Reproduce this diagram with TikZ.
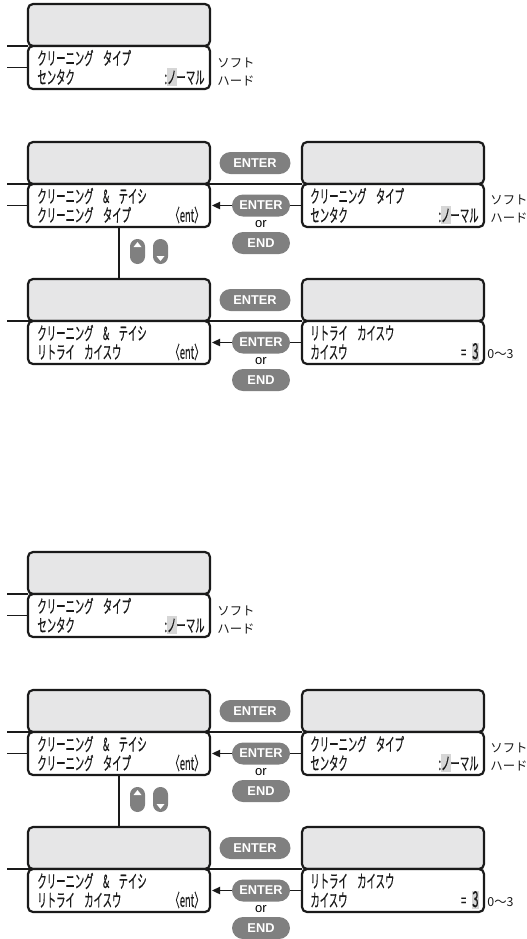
\documentclass[tikz,border=0pt]{standalone}
\usepackage{fontspec}
\setmainfont{Liberation Sans}
\newfontfamily\lcdfont[FakeStretch=0.52,FakeBold=0.3]{Noto Sans CJK JP}
\newfontfamily\notefont{Noto Sans CJK JP}
\usetikzlibrary{positioning,arrows.meta}
\newcommand\lcdmark[1]{{\setlength\fboxsep{0pt}\colorbox{hlgray}{\rule[-.12em]{0pt}{1.02em}#1}}}

\begin{document}
\begin{tikzpicture}[x=0.5pt,y=-0.5pt,
  lcdtop/.style={draw=ink,line width=1.1pt,fill=lcdgray,rounded corners=2.5pt,minimum width=91pt,minimum height=21pt,inner sep=0pt,outer sep=0pt},
  lcdbot/.style={lcdtop,fill=white,minimum height=21.5pt},
  lcdtxt/.style={inner sep=0pt,text=ink,font=\lcdfont\fontsize{9}{9}\selectfont},
  note/.style={inner sep=0pt,text=ink,font=\notefont\fontsize{6.2}{6.2}\selectfont},
  wire/.style={draw=ink,line width=0.8pt},
  key/.style={fill=keygray,text=white,rounded corners=5.5pt,minimum height=11pt,inner sep=0pt,font=\bfseries\fontsize{6.4}{6.4}\selectfont},
  btn/.style={fill=keygray,rounded corners=3.7pt,minimum width=7.5pt,minimum height=12.5pt,inner sep=0pt}]
\definecolor{ink}{HTML}{1A1A1A}\definecolor{lcdgray}{HTML}{E6E6E7}
\definecolor{keygray}{HTML}{808080}\definecolor{hlgray}{HTML}{D6D6D6}
\useasboundingbox (0,0) rectangle (526,939);
\foreach \dy/\cp in {0/u,548/v}{
\begin{scope}[shift={(0,\dy)}]
% single display
\node[lcdtop] (\cp1top) at (119,25) {};
\node[lcdbot,below=0pt of \cp1top] (\cp1bot) {};
\coordinate (\cp1in) at (7,46);
\coordinate (\cp1inb) at (7,67.5);
\draw[wire] (\cp1in) -- (\cp1top.south west);
\draw[wire] (\cp1inb) -- (\cp1bot.west);
\node[lcdtxt,anchor=west] (\cp1a) at (37,58) {クリーニング　タイプ};
\node[lcdtxt,anchor=west] (\cp1b) at (37,77) {センタク};
\node[lcdtxt,anchor=east] (\cp1c) at (205,77) {:\lcdmark{ノ}ーマル};
\node[note,anchor=west] (\cp1d) at (217,63) {ソフト};
\node[note,anchor=west] (\cp1e) at (217,81) {ハード};
% menu row: cleaning type
\node[lcdtop] (\cp2atop) at (119,163) {};
\node[lcdbot,below=0pt of \cp2atop] (\cp2abot) {};
\node[lcdtop] (\cp2btop) at (393,163) {};
\node[lcdbot,below=0pt of \cp2btop] (\cp2bbot) {};
\coordinate (\cp2in) at (7,184);
\coordinate (\cp2inb) at (7,205.5);
\draw[wire] (\cp2in) -- (\cp2btop.south west);
\draw[wire] (\cp2inb) -- (\cp2abot.west);
\draw[wire,-{Triangle[length=4pt,width=3.6pt]},shorten >=1pt] (\cp2bbot.west) -- (\cp2abot.east);
\node[key,minimum width=35.5pt] (\cp2go) at (255,163) {ENTER};
\node[key,minimum width=29pt] (\cp2ok) at (261,205.5) {ENTER};
\node[inner sep=0pt,font=\fontsize{6.5}{6.5}\selectfont] (\cp2or) at (261,224) {or};
\node[key,minimum width=29pt] (\cp2end) at (261,243) {END};
\node[lcdtxt,anchor=west] (\cp2a) at (37,196) {クリーニング　\&　テイシ};
\node[lcdtxt,anchor=west] (\cp2b) at (37,215) {クリーニング　タイプ};
\node[lcdtxt,anchor=east] (\cp2c) at (204,215) {〈ent〉};
\node[lcdtxt,anchor=west] (\cp2d) at (310,196) {クリーニング　タイプ};
\node[lcdtxt,anchor=west] (\cp2e) at (310,215) {センタク};
\node[lcdtxt,anchor=east] (\cp2f) at (479,215) {:\lcdmark{ノ}ーマル};
\node[note,anchor=west] (\cp2g) at (490,200) {ソフト};
\node[note,anchor=west] (\cp2h) at (490,218) {ハード};
% menu row: retry count
\node[lcdtop] (\cp3atop) at (119,300) {};
\node[lcdbot,below=0pt of \cp3atop] (\cp3abot) {};
\node[lcdtop] (\cp3btop) at (393,300) {};
\node[lcdbot,below=0pt of \cp3btop] (\cp3bbot) {};
\coordinate (\cp3in) at (7,321);
\draw[wire] (\cp3in) -- (\cp3btop.south west);
\draw[wire,-{Triangle[length=4pt,width=3.6pt]},shorten >=1pt] (\cp3bbot.west) -- (\cp3abot.east);
\node[key,minimum width=35.5pt] (\cp3go) at (255,300) {ENTER};
\node[key,minimum width=29pt] (\cp3ok) at (261,342.5) {ENTER};
\node[inner sep=0pt,font=\fontsize{6.5}{6.5}\selectfont] (\cp3or) at (261,361) {or};
\node[key,minimum width=29pt] (\cp3end) at (261,380) {END};
\node[lcdtxt,anchor=west] (\cp3a) at (37,333) {クリーニング　\&　テイシ};
\node[lcdtxt,anchor=west] (\cp3b) at (37,352) {リトライ　カイスウ};
\node[lcdtxt,anchor=east] (\cp3c) at (204,352) {〈ent〉};
\node[lcdtxt,anchor=west] (\cp3d) at (310,333) {リトライ　カイスウ};
\node[lcdtxt,anchor=west] (\cp3e) at (310,352) {カイスウ};
\node[lcdtxt,anchor=east] (\cp3f) at (479,352) {=\hspace{3pt}\lcdmark{\fontsize{11}{11}\selectfont 3}};
\node[note,anchor=west] (\cp3g) at (487,354) {0〜3};
% up/down keys
\draw[wire] (\cp2abot.south) -- (\cp3atop.north);
\node[btn] (\cp2up) at (137.5,251.5) {};
\node[btn] (\cp2dn) at (160.5,251.5) {};
\fill[white] ([shift={(-4,-4.5)}]\cp2up.center) -- ([shift={(4,-4.5)}]\cp2up.center) -- ([shift={(0,-9.5)}]\cp2up.center) -- cycle;
\fill[white] ([shift={(-4,4.5)}]\cp2dn.center) -- ([shift={(4,4.5)}]\cp2dn.center) -- ([shift={(0,9.5)}]\cp2dn.center) -- cycle;
\end{scope}
}
\end{tikzpicture}
\end{document}
